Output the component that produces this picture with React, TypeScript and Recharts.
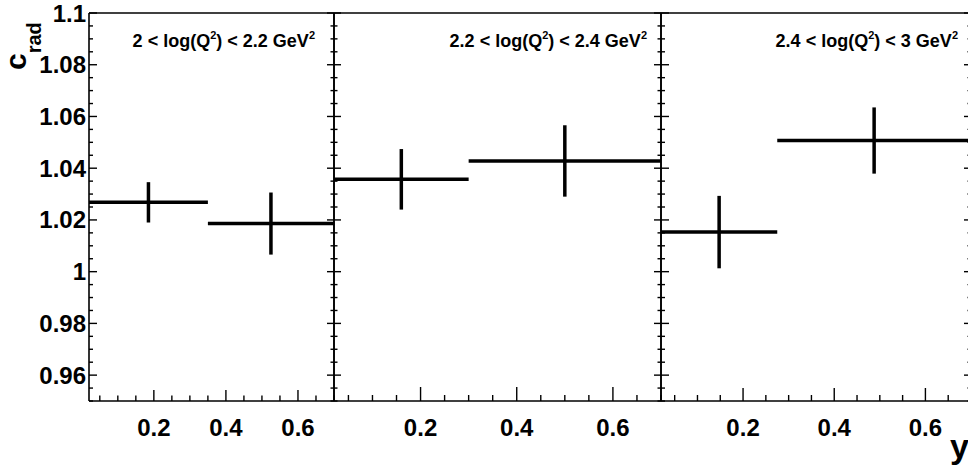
import { ScatterChart, Scatter, XAxis, YAxis, ErrorBar } from "recharts";

// bins in y, correction factor and its error, per Q^2 slice
const q2Ranges = [
  ["2", "2.2"],
  ["2.2", "2.4"],
  ["2.4", "3"]
];
const binLow1 = [0.02, 0.35];
const binHigh1 = [0.35, 0.7];
const crad1 = [1.0268, 1.0186];
const cradErr1 = [0.0078, 0.012];

const binLow2 = [0.02, 0.3];
const binHigh2 = [0.3, 0.7];
const crad2 = [1.0357, 1.0428];
const cradErr2 = [0.0117, 0.0138];

const binLow3 = [0.02, 0.275];
const binHigh3 = [0.275, 0.7];
const crad3 = [1.0153, 1.0507];
const cradErr3 = [0.014, 0.0128];

const xMajor = [0.2, 0.4, 0.6];
const yMajor = [0.96, 0.98, 1, 1.02, 1.04, 1.06, 1.08, 1.1];
const xDomain: [number, number] = [0.02, 0.7];
const yDomain: [number, number] = [0.95, 1.1];

const FONT = "'Liberation Sans', Arial, Helvetica, sans-serif";
const CW = 975;
const CH = 467;

function steps(from: number, to: number, step: number) {
  const out: number[] = [];
  for (let v = from; v <= to + 1e-9; v += step) out.push(Math.round(v * 1000) / 1000);
  return out;
}
const xTicks = steps(0.05, 0.7, 0.05);
const yTicks = steps(0.95, 1.1, 0.005);

const isMajor = (v: number, majors: number[]) => majors.some((m) => Math.abs(m - v) < 1e-6);

function toPoints(lo: number[], hi: number[], val: number[], err: number[]) {
  return lo.map((l, i) => ({
    x: (l + hi[i]) / 2,
    y: val[i],
    xerr: (hi[i] - l) / 2,
    yerr: err[i]
  }));
}

const panels = [
  { data: toPoints(binLow1, binHigh1, crad1, cradErr1), left: 89, right: 334, xLen: [11, 5.5], yL: [8, 4], yR: [7, 3.5], labels: true, titleX: 315 },
  { data: toPoints(binLow2, binHigh2, crad2, cradErr2), left: 334, right: 661, xLen: [14, 6], yL: [7, 3.5], yR: [7, 3.5], labels: false, titleX: 647 },
  { data: toPoints(binLow3, binHigh3, crad3, cradErr3), left: 661, right: 971, xLen: [13, 6], yL: [8, 4], yR: [7, 3.5], labels: false, titleX: 958 }
];

const bottomTick = (len: number[]) => (p: any) => {
  const v = p.payload.value;
  const major = isMajor(v, xMajor);
  return (
    <g>
      <line x1={p.x} x2={p.x} y1={p.y} y2={p.y - (major ? len[0] : len[1])} stroke="#000" strokeWidth={1.4} />
      {major && (
        <text x={p.x} y={p.y + 35} textAnchor="middle" fontFamily={FONT} fontWeight="bold" fontSize={24} fill="#000">
          {String(v)}
        </text>
      )}
    </g>
  );
};

const sideTick = (len: number[], dir: number, labels: boolean) => (p: any) => {
  const v = p.payload.value;
  const major = isMajor(v, yMajor);
  return (
    <g>
      <line x1={p.x} x2={p.x + dir * (major ? len[0] : len[1])} y1={p.y} y2={p.y} stroke="#000" strokeWidth={1.4} />
      {labels && major && (
        <text x={p.x - 3} y={p.y + 8.5} textAnchor="end" fontFamily={FONT} fontWeight="bold" fontSize={24} fill="#000">
          {String(Number(v.toFixed(2)))}
        </text>
      )}
    </g>
  );
};

function Panel({ p }: { p: (typeof panels)[number] }) {
  // axes are 1px wide/high, so margins are shrunk by one to keep the frame in place
  return (
    <div style={{ position: "absolute", left: 0, top: 0 }}>
      <ScatterChart
        width={CW}
        height={CH}
        margin={{ top: 12, bottom: CH - 401 - 1, left: p.left - 1, right: CW - p.right - 1 }}
      >
        <XAxis
          xAxisId="b"
          type="number"
          dataKey="x"
          domain={xDomain}
          allowDataOverflow
          ticks={xTicks}
          interval={0}
          height={1}
          tickSize={0}
          tickMargin={0}
          tickLine={false}
          axisLine={{ stroke: "#000", strokeWidth: 1.6 }}
          tick={bottomTick(p.xLen)}
        />
        <XAxis
          xAxisId="t"
          orientation="top"
          type="number"
          domain={xDomain}
          allowDataOverflow
          height={1}
          tick={false}
          tickLine={false}
          axisLine={{ stroke: "#000", strokeWidth: 1.6 }}
        />
        <YAxis
          yAxisId="l"
          type="number"
          dataKey="y"
          domain={yDomain}
          allowDataOverflow
          ticks={yTicks}
          interval={0}
          width={1}
          tickSize={0}
          tickMargin={0}
          tickLine={false}
          axisLine={{ stroke: "#000", strokeWidth: 1.6 }}
          tick={sideTick(p.yL, 1, p.labels)}
        />
        <YAxis
          yAxisId="r"
          orientation="right"
          type="number"
          domain={yDomain}
          allowDataOverflow
          ticks={yTicks}
          interval={0}
          width={1}
          tickSize={0}
          tickMargin={0}
          tickLine={false}
          axisLine={{ stroke: "#000", strokeWidth: 1.6 }}
          tick={sideTick(p.yR, -1, false)}
        />
        <Scatter
          xAxisId="b"
          yAxisId="l"
          data={p.data}
          isAnimationActive={false}
          shape={() => <g />}
        >
          <ErrorBar dataKey="xerr" direction="x" width={0} stroke="#000" strokeWidth={3.5} isAnimationActive={false} />
          <ErrorBar dataKey="yerr" direction="y" width={0} stroke="#000" strokeWidth={3.5} isAnimationActive={false} />
        </Scatter>
      </ScatterChart>
    </div>
  );
}

export default function App() {
  return (
    <div style={{ position: "fixed", left: 0, top: 0, width: 968, height: 467, overflow: "hidden", background: "#fff" }}>
      {panels.map((p, i) => (
        <Panel key={i} p={p} />
      ))}
      <svg width={968} height={467} style={{ position: "absolute", left: 0, top: 0 }} fontFamily={FONT} fontWeight="bold" fill="#000">
        {panels.map((p, i) => (
          <text key={i} x={p.titleX} y={47} textAnchor="end" fontSize={18}>
            {q2Ranges[i][0]} {"<"} log(Q
            <tspan fontSize={11} dy={-8}>2</tspan>
            <tspan dy={8}>) {"<"} {q2Ranges[i][1]} GeV</tspan>
            <tspan fontSize={11} dy={-8}>2</tspan>
          </text>
        ))}
        <text transform="translate(26,70) rotate(-90)" fontSize={30}>
          c<tspan fontSize={20} dy={15}>rad</tspan>
        </text>
        <text x={950} y={458} fontSize={34}>
          y
        </text>
      </svg>
    </div>
  );
}
